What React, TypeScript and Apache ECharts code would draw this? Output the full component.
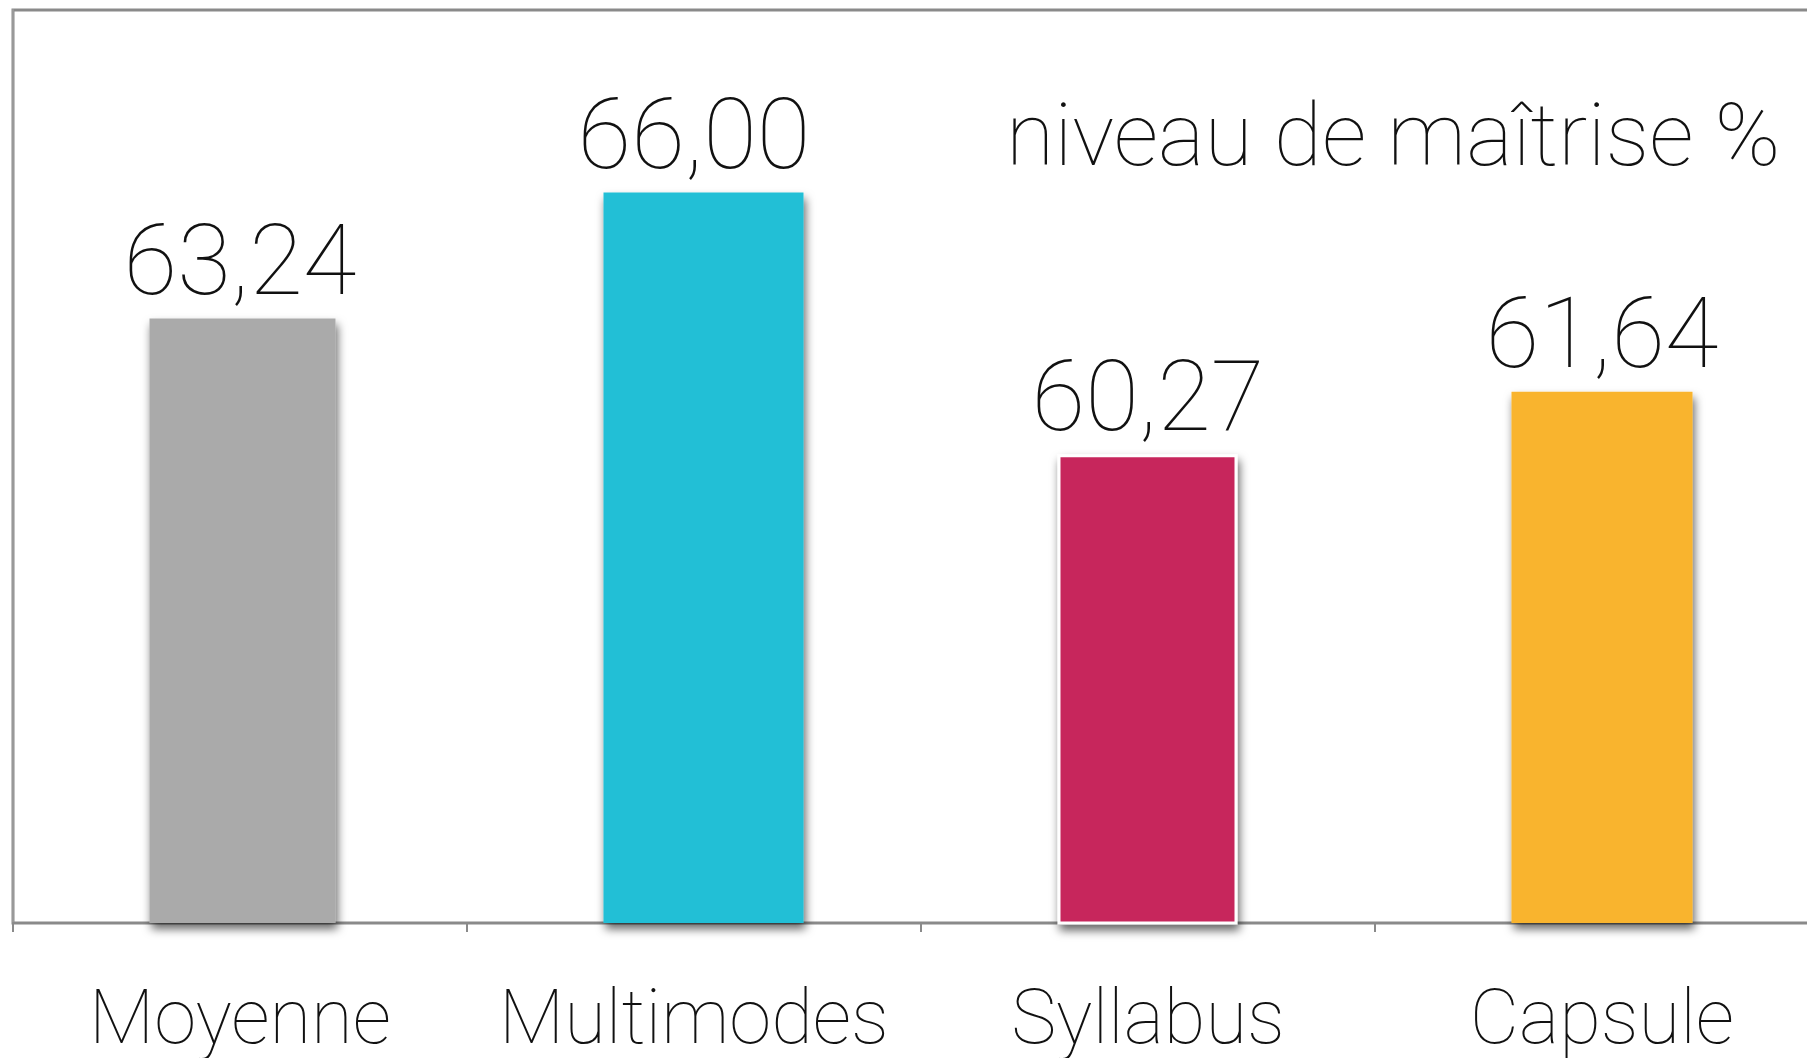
import React, { useEffect, useRef } from "react";
import * as echarts from "echarts";

const categories = ["Moyenne", "Multimodes", "Syllabus", "Capsule"];
const values = [63.24, 66.0, 60.27, 61.64];
const colors = ["#AAAAAA", "#22BFD6", "#C7255C", "#F9B42E"];
const barWidths = [186, 200, 180, 181];
const chartTitle = "niveau de maîtrise %";
const yMin = 50;
const yMax = 70;

const FONT = "Roboto";

export default function App() {
  const ref = useRef<HTMLDivElement>(null);
  useEffect(() => {
    const chart = echarts.init(ref.current!, null, { renderer: "svg" });
    const lastW = barWidths[barWidths.length - 1];
    const series = categories.map((c, i) => ({
      type: "bar",
      name: c,
      barWidth: barWidths[i],
      barGap: "-100%",
      data: values.map((v, j) => (j === i ? v : "-")),
      itemStyle: {
        color: colors[i],
        borderColor: i === 2 ? "#ffffff" : colors[i],
        borderWidth: i === 2 ? 3 : 0,
        shadowColor: "rgba(0,0,0,0.6)",
        shadowBlur: 10,
        shadowOffsetX: 2,
        shadowOffsetY: 6,
      },
      label: {
        show: true,
        position: "top",
        distance: 9,
        offset: [(lastW - barWidths[i]) / 2, 0],
        formatter: (p: any) => Number(p.value).toFixed(2).replace(".", ","),
        fontFamily: FONT,
        fontWeight: 100,
        fontSize: 98,
        lineHeight: 98,
        color: "#111",
      },
    }));

    chart.setOption({
      animation: false,
      backgroundColor: "#ffffff",
      grid: {
        left: 13,
        top: 10,
        width: 1816,
        height: 913,
        show: true,
        borderColor: "#8a8a8a",
        borderWidth: 3,
        backgroundColor: "transparent",
      },
      xAxis: {
        type: "category",
        data: categories,
        axisLine: { show: true, lineStyle: { color: "#8a8a8a", width: 2 } },
        axisTick: { show: true, length: 9, lineStyle: { color: "#8a8a8a", width: 2 } },
        axisLabel: {
          interval: 0,
          fontFamily: FONT,
          fontWeight: 100,
          fontSize: 76,
          lineHeight: 76,
          margin: 56,
          color: "#111",
        },
      },
      yAxis: {
        type: "value",
        min: yMin,
        max: yMax,
        axisLine: { show: true, lineStyle: { color: "#999", width: 2 } },
        axisTick: { show: false },
        axisLabel: { show: false },
        splitLine: { show: false },
      },
      graphic: [
        {
          type: "text",
          x: 1006,
          y: 134,
          style: {
            text: chartTitle,
            fill: "#111",
            font: `100 88px ${FONT}`,
            textAlign: "left",
            textVerticalAlign: "middle",
          },
        },
      ],
      series,
    });
    return () => chart.dispose();
  }, []);
  return (
    <div
      ref={ref}
      style={{ position: "fixed", left: 0, top: 0, width: 1850, height: 1058, background: "#fff" }}
    />
  );
}
